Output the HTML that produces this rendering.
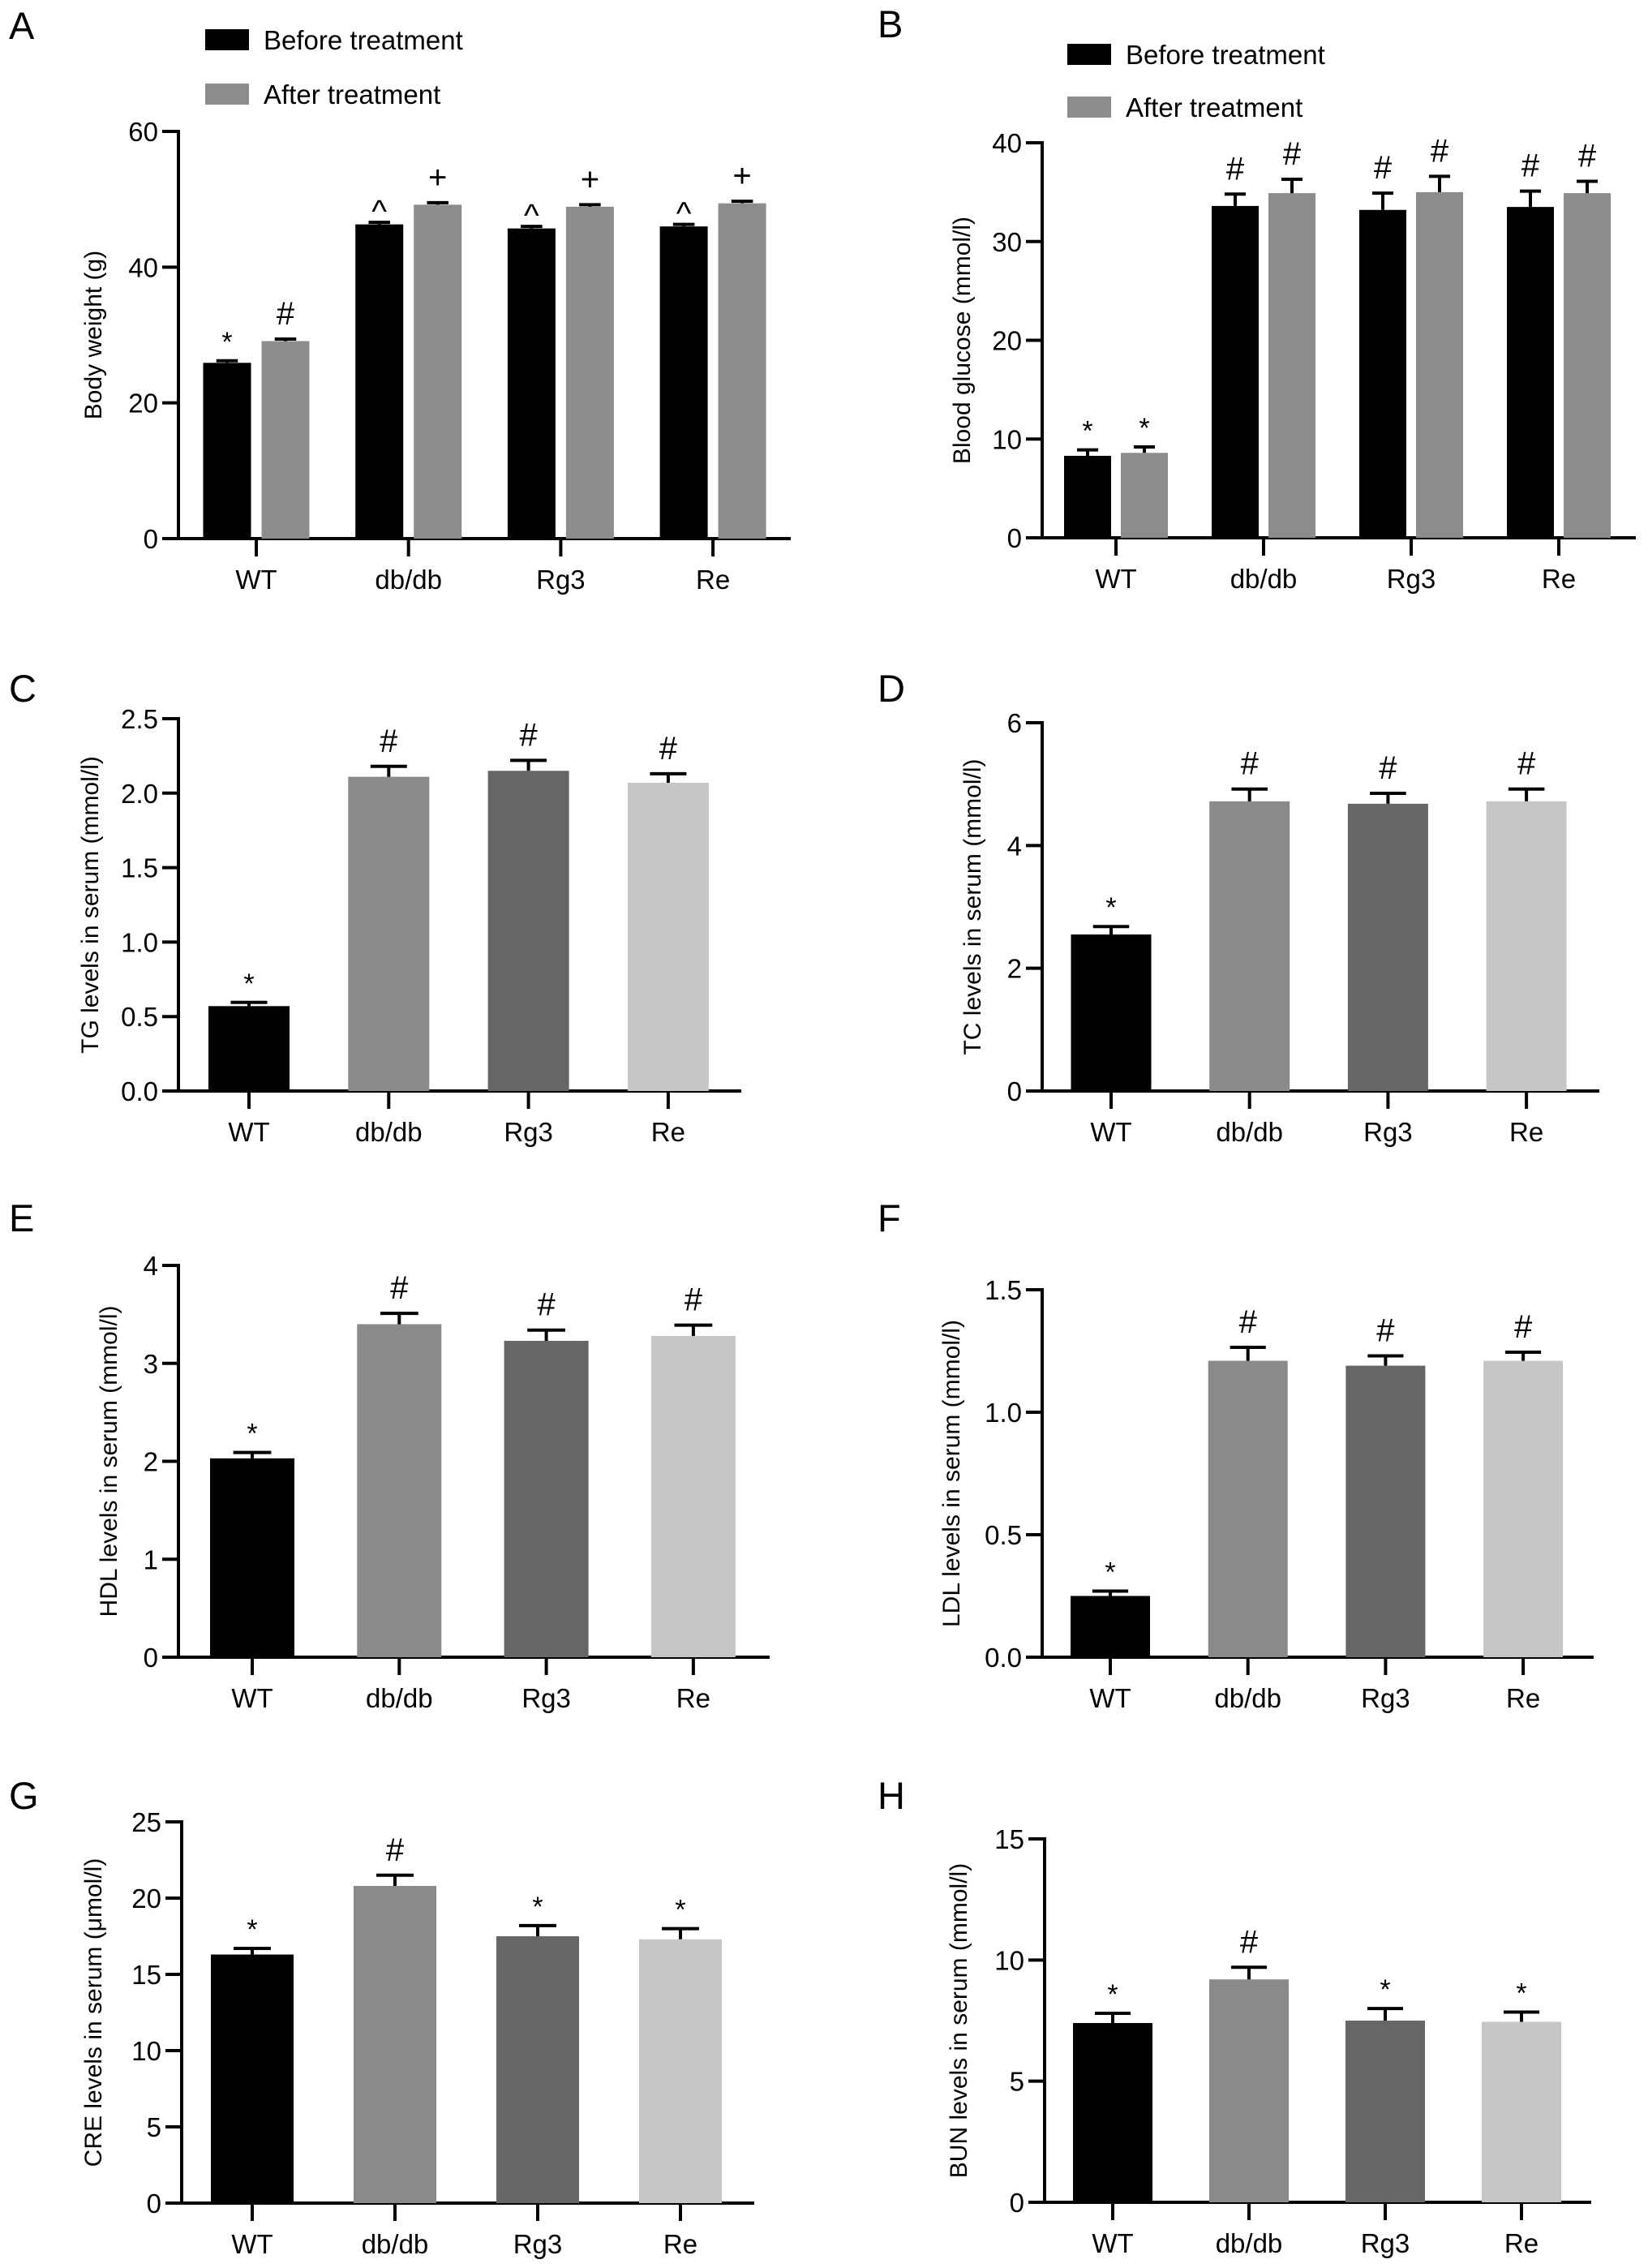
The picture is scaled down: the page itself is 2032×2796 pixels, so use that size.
<!DOCTYPE html>
<html><head><meta charset="utf-8"><style>
html,body{margin:0;padding:0;background:#fff;}
svg{display:block;}
text{font-family:"Liberation Sans",Arial,sans-serif;fill:#000;}
</style></head>
<body>
<svg id="fig" xmlns="http://www.w3.org/2000/svg" width="2032" height="2796" viewBox="0 0 2032 2796"></svg>
<script>
// ---- DATA ----
const categories = ["WT","db/db","Rg3","Re"];
// Panel A: Body weight
const aBefore = [25.9, 46.3, 45.7, 46.0];
const aBeforeErr = [0.3, 0.3, 0.3, 0.3];
const aAfter = [29.1, 49.2, 48.9, 49.4];
const aAfterErr = [0.3, 0.3, 0.3, 0.3];
const aBeforeMarks = ["*","^","^","^"];
const aAfterMarks = ["#","+","+","+"];
const aTicks = [0,20,40,60];
// Panel B: Blood glucose
const bBefore = [8.3, 33.6, 33.2, 33.5];
const bBeforeErr = [0.6, 1.2, 1.7, 1.6];
const bAfter = [8.6, 34.9, 35.0, 34.9];
const bAfterErr = [0.6, 1.4, 1.6, 1.2];
const bBeforeMarks = ["*","#","#","#"];
const bAfterMarks = ["*","#","#","#"];
const bTicks = [0,10,20,30,40];
// Panel C: TG
const cVals = [0.57, 2.11, 2.15, 2.07];
const cErr = [0.025, 0.07, 0.07, 0.06];
const cMarks = ["*","#","#","#"];
const cTicks = ["0.0","0.5","1.0","1.5","2.0","2.5"];
// Panel D: TC
const dVals = [2.55, 4.72, 4.68, 4.72];
const dErr = [0.13, 0.2, 0.17, 0.2];
const dMarks = ["*","#","#","#"];
const dTicks = ["0","2","4","6"];
// Panel E: HDL
const eVals = [2.03, 3.40, 3.23, 3.28];
const eErr = [0.06, 0.11, 0.11, 0.11];
const eMarks = ["*","#","#","#"];
const eTicks = ["0","1","2","3","4"];
// Panel F: LDL
const fVals = [0.25, 1.21, 1.19, 1.21];
const fErr = [0.02, 0.055, 0.04, 0.035];
const fMarks = ["*","#","#","#"];
const fTicks = ["0.0","0.5","1.0","1.5"];
// Panel G: CRE
const gVals = [16.3, 20.8, 17.5, 17.3];
const gErr = [0.4, 0.7, 0.7, 0.7];
const gMarks = ["*","#","*","*"];
const gTicks = ["0","5","10","15","20","25"];
// Panel H: BUN
const hVals = [7.4, 9.2, 7.5, 7.45];
const hErr = [0.4, 0.5, 0.5, 0.4];
const hMarks = ["*","#","*","*"];
const hTicks = ["0","5","10","15"];

const singleColors = ["#000000","#8a8a8a","#666666","#c6c6c6"];
const NS = "http://www.w3.org/2000/svg";
const svg = document.getElementById('fig');

function mk(tag, attrs, parent){
  const e = document.createElementNS(NS, tag);
  for (const k in attrs) e.setAttribute(k, attrs[k]);
  (parent||svg).appendChild(e);
  return e;
}

function drawAxes(g, L, ticks, title, key){
  const y = v => L.y0 - (v - 0) / L.max * (L.y0 - L.yTop);
  const ya = mk('line',{x1:L.ax,y1:L.yTop-2,x2:L.ax,y2:L.y0+2,stroke:'#000','stroke-width':4},g);
  
  
  ticks.forEach(t=>{
    const v = parseFloat(t);
    const yy = y(v);
    const tl = mk('line',{x1:L.ax-20,y1:yy,x2:L.ax,y2:yy,stroke:'#000','stroke-width':4},g);
    
    
    const tx = mk('text',{x:L.ax-25,y:yy+12,'text-anchor':'end','font-size':33},g);
    tx.textContent = t;
    
    
  });
  const xa = mk('line',{x1:L.ax-20,y1:L.y0,x2:L.xEnd,y2:L.y0,stroke:'#000','stroke-width':4},g);
  
  
  categories.forEach((c,i)=>{
    const cx = L.c0 + i*L.step;
    const tk = mk('line',{x1:cx,y1:L.y0,x2:cx,y2:L.y0+22,stroke:'#000','stroke-width':4},g);
    
    
    const lb = mk('text',{x:cx,y:L.y0+62,'text-anchor':'middle','font-size':33},g);
    lb.textContent = c;
    
    
  });
  const my = (L.y0+L.yTop)/2;
  const tt = mk('text',{x:L.tx,y:my,'text-anchor':'middle','font-size':30,transform:`rotate(-90 ${L.tx} ${my})`,'dominant-baseline':'middle'},g);
  tt.textContent = title;
  
  
  const lt = mk('text',{x:L.lx,y:L.ly,'font-size':47},g);
  lt.textContent = key.toUpperCase().slice(-1);
  
  
  return y;
}

function drawBar(g, key, cx, w, val, err, color, mark, y){
  const top = y(val);
  const r = mk('rect',{x:cx-w/2,y:top,width:w,height:y(0)-top,fill:color},g);
  
  
  const et = y(val+err);
  const cw = w*0.45;
  const el = mk('path',{d:`M${cx} ${top} V${et} M${cx-cw/2} ${et} H${cx+cw/2}`,stroke:'#000','stroke-width':4,fill:'none'},g);
  
  
  let fs = 40, off = 18;
  if (mark==='*'){ fs = 34; off = 12; }
  if (mark==='^'){ fs = 40; off = 0; }
  const m = mk('text',{x:cx,y:et-off,'text-anchor':'middle','font-size':fs},g);
  m.textContent = mark;
  
  
}

function pairedPanel(key, L, before, beforeErr, after, afterErr, bm, am, ticks, title){
  const g = mk('g',{});
  
  
  const y = drawAxes(g, L, ticks.map(String), title, 'panel-'+key);
  categories.forEach((c,i)=>{
    const cx = L.c0 + i*L.step;
    drawBar(g,'before-'+c,cx-L.off,L.bw,before[i],beforeErr[i],'#000000',bm[i],y);
    drawBar(g,'after-'+c,cx+L.off,L.bw,after[i],afterErr[i],'#8c8c8c',am[i],y);
  });
  const lg = mk('g',{},g);
  
  
  [['Before treatment','#000000',L.legY1],['After treatment','#8c8c8c',L.legY2]].forEach(([t,c,yy])=>{
    const bx = mk('rect',{x:L.legX,y:yy,width:54,height:26,fill:c},lg);
    
    
    const tx = mk('text',{x:L.legX+72,y:yy+25,'font-size':33},lg);
    tx.textContent = t;
    
    
  });
}

function singlePanel(key, L, vals, errs, marks, ticks, title){
  const g = mk('g',{});
  
  
  const y = drawAxes(g, L, ticks, title, 'panel-'+key);
  categories.forEach((c,i)=>{
    const cx = L.c0 + i*L.step;
    drawBar(g,key+'-'+c,cx,L.bw,vals[i],errs[i],singleColors[i],marks[i],y);
  });
}

pairedPanel('a',{ax:220,y0:664,yTop:162,max:60,xEnd:975,c0:316,step:187.7,off:36,bw:59,tx:117,lx:11,ly:48,legX:253,legY1:36,legY2:103},
  aBefore,aBeforeErr,aAfter,aAfterErr,aBeforeMarks,aAfterMarks,aTicks,'Body weight (g)');
pairedPanel('b',{ax:1285,y0:663,yTop:176,max:40,xEnd:2017,c0:1376,step:182,off:35,bw:58,tx:1188,lx:1082,ly:46,legX:1316,legY1:54,legY2:119},
  bBefore,bBeforeErr,bAfter,bAfterErr,bBeforeMarks,bAfterMarks,bTicks,'Blood glucose (mmol/l)');
singlePanel('c',{ax:220,y0:1345,yTop:886,max:2.5,xEnd:914,c0:307,step:172.3,bw:100,tx:113,lx:11,ly:865},cVals,cErr,cMarks,cTicks,'TG levels in serum (mmol/l)');
singlePanel('d',{ax:1285,y0:1345,yTop:891,max:6,xEnd:1972,c0:1370,step:170.7,bw:99,tx:1201,lx:1082,ly:865},dVals,dErr,dMarks,dTicks,'TC levels in serum (mmol/l)');
singlePanel('e',{ax:220,y0:2043,yTop:1560,max:4,xEnd:949,c0:311,step:181.3,bw:104,tx:136,lx:11,ly:1518},eVals,eErr,eMarks,eTicks,'HDL levels in serum (mmol/l)');
singlePanel('f',{ax:1285,y0:2043,yTop:1590,max:1.5,xEnd:1965,c0:1369,step:169.7,bw:98,tx:1175,lx:1082,ly:1518},fVals,fErr,fMarks,fTicks,'LDL levels in serum (mmol/l)');
singlePanel('g',{ax:224,y0:2716,yTop:2246,max:25,xEnd:930,c0:311,step:176,bw:102,tx:117,lx:11,ly:2230},gVals,gErr,gMarks,gTicks,'CRE levels in serum (\u03bcmol/l)');
singlePanel('h',{ax:1288,y0:2715,yTop:2267,max:15,xEnd:1962,c0:1372,step:168,bw:98,tx:1184,lx:1082,ly:2230},hVals,hErr,hMarks,hTicks,'BUN levels in serum (mmol/l)');
</script>
</body></html>
